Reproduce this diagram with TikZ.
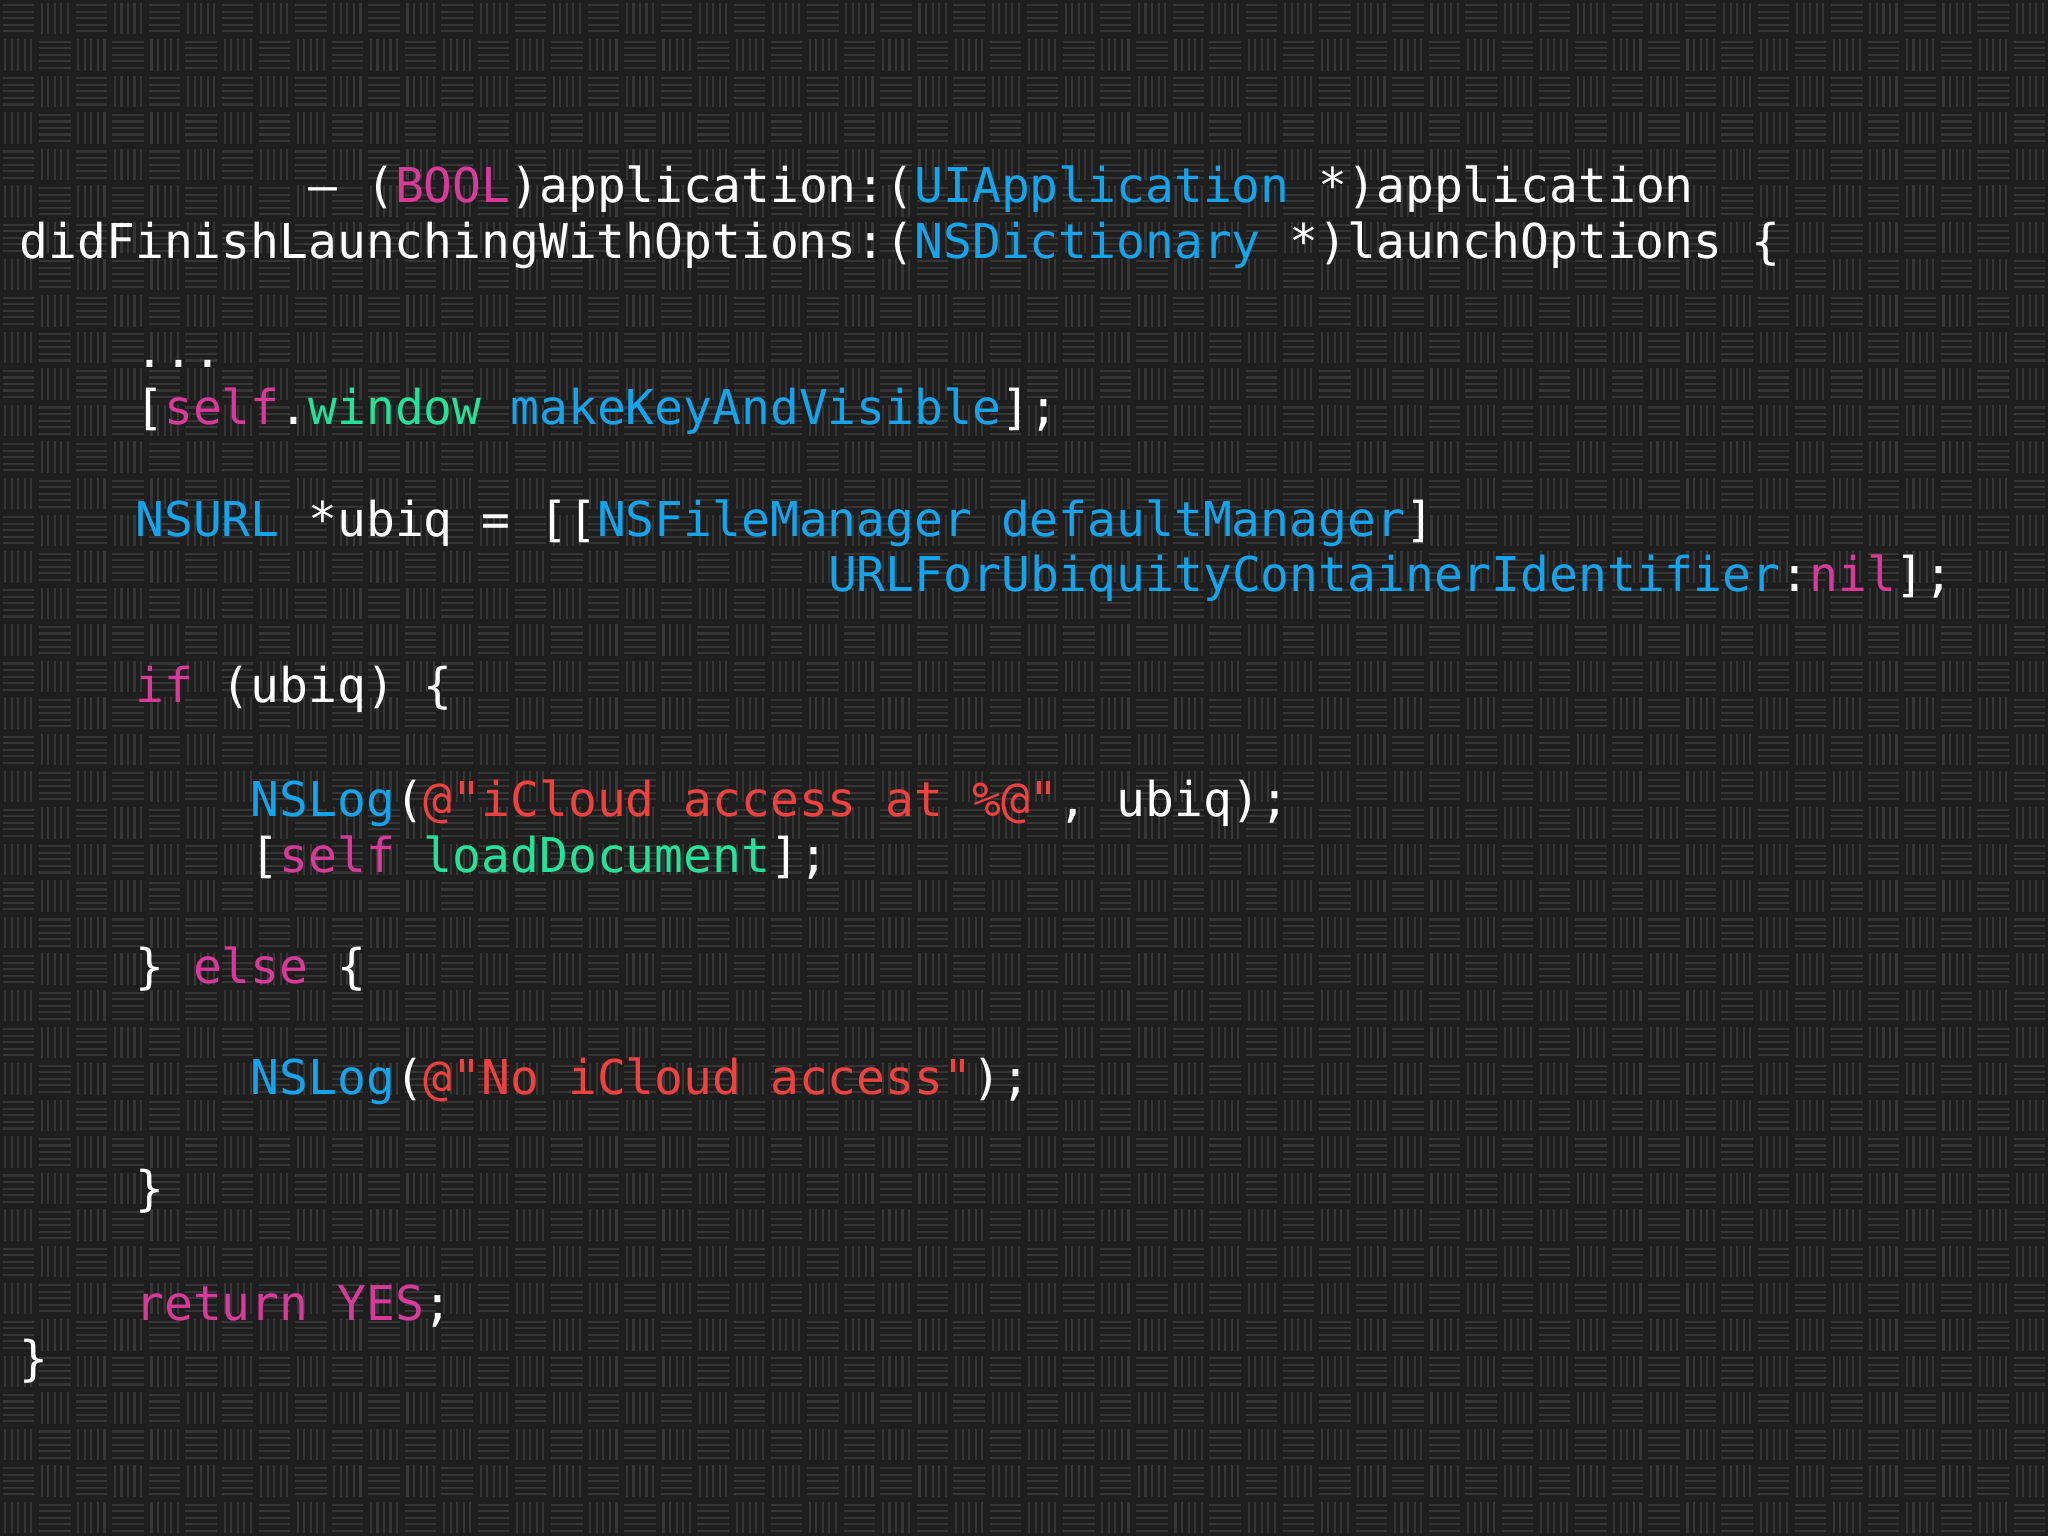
\documentclass[tikz,border=0pt]{standalone}
\usepackage{fontspec}
\setmonofont{DejaVu Sans Mono}
\definecolor{bg}{HTML}{1E1E1E}
\definecolor{st}{HTML}{363636}
\definecolor{kw}{HTML}{D8399A}
\definecolor{ty}{HTML}{12A4EC}
\definecolor{gn}{HTML}{22E39A}
\definecolor{rd}{HTML}{F0413F}
\newcommand{\KW}[1]{\textcolor{kw}{#1}}
\newcommand{\TY}[1]{\textcolor{ty}{#1}}
\newcommand{\GN}[1]{\textcolor{gn}{#1}}
\newcommand{\RD}[1]{\textcolor{rd}{#1}}
\tikzset{codeline/.style={anchor=base west,inner sep=0pt,text=white,font=\ttfamily\fontsize{36.7}{40}\selectfont},
  weave/.style={st,line width=1.6pt}}
\begin{document}
\begin{tikzpicture}[x=1pt,y=-1pt]
\useasboundingbox (0,0) rectangle (1568,1176);
\fill[bg] (0,0) rectangle (1568,1176);
% basket weave texture
\foreach \j in {0,...,41}{
  \pgfmathtruncatemacro{\ha}{mod(\j,2)}
  \pgfmathtruncatemacro{\hb}{\ha+2}
  \pgfmathtruncatemacro{\va}{1-\ha}
  \pgfmathtruncatemacro{\vb}{\va+2}
  \draw[weave] \foreach \i in {\ha,\hb,...,55}{ \foreach \k in {4,9,...,24}{ (\i*28+2,\j*28+\k) -- (\i*28+26,\j*28+\k) } };
  \draw[weave] \foreach \i in {\va,\vb,...,55}{ \foreach \k in {4,9,...,24}{ (\i*28+\k,\j*28+2) -- (\i*28+\k,\j*28+26) } };
}
\def\cw{22.1}
\node[codeline] (l1) at (15+10*\cw,155) {– (\KW{BOOL})application:(\TY{UIApplication} *)application};
\node[codeline] (l2) at (15,198) {didFinishLaunchingWithOptions:(\TY{NSDictionary} *)launchOptions \{};
\node[codeline] (l3) at (15+4*\cw,281) {...};
\node[codeline] (l4) at (15+4*\cw,325) {[\KW{self}.\GN{window} \TY{makeKeyAndVisible}];};
\node[codeline] (l5) at (15+4*\cw,411) {\TY{NSURL} *ubiq = [[\TY{NSFileManager} \TY{defaultManager}]};
\node[codeline] (l6) at (15+28*\cw,453) {\TY{URLForUbiquityContainerIdentifier}:\KW{nil}];};
\node[codeline] (l7) at (15+4*\cw,538) {\KW{if} (ubiq) \{};
\node[codeline] (l8) at (15+8*\cw,625) {\TY{NSLog}(\RD{@"iCloud access at \%@"}, ubiq);};
\node[codeline] (l9) at (15+8*\cw,668) {[\KW{self} \GN{loadDocument}];};
\node[codeline] (l10) at (15+4*\cw,753) {\} \KW{else} \{};
\node[codeline] (l11) at (15+8*\cw,838) {\TY{NSLog}(\RD{@"No iCloud access"});};
\node[codeline] (l12) at (15+4*\cw,923) {\}};
\node[codeline] (l13) at (15+4*\cw,1011) {\KW{return} \KW{YES};};
\node[codeline] (l14) at (15,1053) {\}};
\end{tikzpicture}
\end{document}
